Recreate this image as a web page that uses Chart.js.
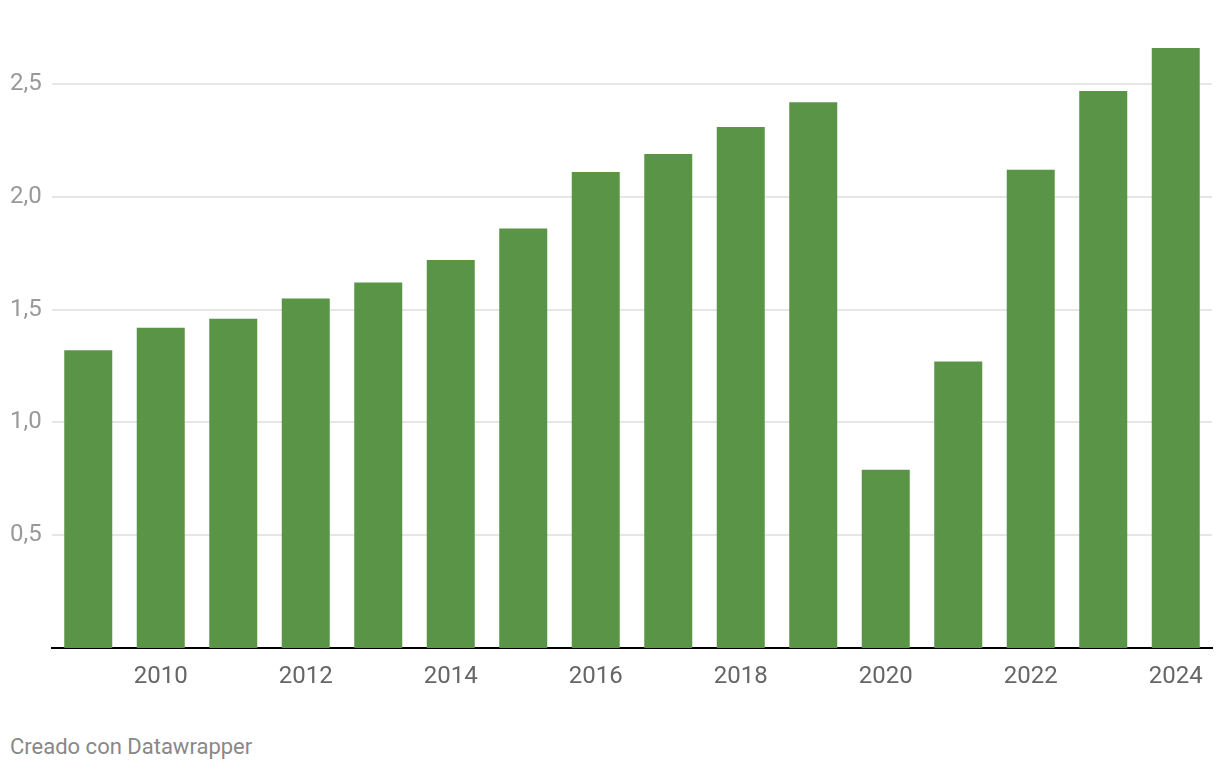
<!DOCTYPE html>
<html lang="es">
<head>
<meta charset="utf-8">
<title>Chart</title>
<script src="https://cdn.jsdelivr.net/npm/chart.js@4"></script>
<style>
    html, body {
        margin: 0;
        padding: 0;
        background: #ffffff;
        font-family: Roboto, sans-serif;
    }
    .chart-wrap {
        position: relative;
        width: 1220px;
        height: 700px;
    }
    .footer {
        position: absolute;
        left: 10px;
        top: 735px;
        font-size: 22px;
        color: #888888;
        line-height: 24px;
    }
</style>
</head>
<body>
<div class="chart-wrap">
    <canvas id="barChart"></canvas>
</div>
<div class="footer">Creado con Datawrapper</div>

<script>
// Data
const years = ['2009', '2010', '2011', '2012', '2013', '2014', '2015', '2016',
               '2017', '2018', '2019', '2020', '2021', '2022', '2023', '2024'];
const values = [1.32, 1.42, 1.46, 1.55, 1.62, 1.72, 1.86, 2.11,
                2.19, 2.31, 2.42, 0.79, 1.27, 2.12, 2.47, 2.66];
const xTickLabels = ['2010', '2012', '2014', '2016', '2018', '2020', '2022', '2024'];
const yTickValues = [0.5, 1.0, 1.5, 2.0, 2.5];

document.addEventListener('DOMContentLoaded', () => {
    const ctx = document.getElementById('barChart').getContext('2d');

    new Chart(ctx, {
        type: 'bar',
        data: {
            labels: years,
            datasets: [{
                data: values,
                backgroundColor: '#5a9446',
                borderWidth: 0,
                categoryPercentage: 1.0,
                barPercentage: 0.662
            }]
        },
        options: {
            responsive: true,
            maintainAspectRatio: false,
            animation: false,
            layout: {
                padding: { top: 39, left: 10, right: 8, bottom: 0 }
            },
            plugins: {
                legend: { display: false },
                tooltip: { enabled: false }
            },
            scales: {
                x: {
                    grid: { display: false, drawTicks: false },
                    border: { display: true, color: '#000000', width: 2 },
                    ticks: {
                        autoSkip: false,
                        maxRotation: 0,
                        padding: 15,
                        color: '#666666',
                        font: { family: 'Roboto', size: 24 },
                        callback: function (value, index) {
                            const label = years[index];
                            return xTickLabels.includes(label) ? label : '';
                        }
                    },
                    afterFit: (scale) => { scale.height = 52; }
                },
                y: {
                    min: 0,
                    max: 2.7,
                    grid: {
                        color: '#e6e6e6',
                        lineWidth: 2,
                        drawTicks: false
                    },
                    border: { display: false },
                    ticks: {
                        crossAlign: 'far',
                        color: '#999999',
                        font: { family: 'Roboto', size: 24 },
                        callback: (value) => value.toFixed(1).replace('.', ',')
                    },
                    afterBuildTicks: (scale) => {
                        scale.ticks = yTickValues.map(v => ({ value: v }));
                    },
                    afterFit: (scale) => { scale.width = 42; }
                }
            }
        }
    });
});
</script>
</body>
</html>
